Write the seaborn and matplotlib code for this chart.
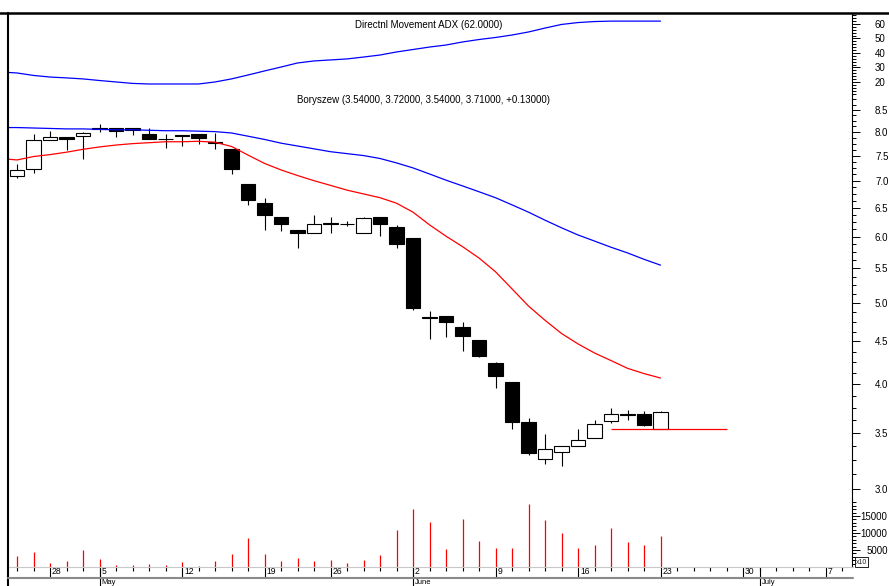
import numpy as np
import matplotlib
matplotlib.use("Agg")
import matplotlib.pyplot as plt
import matplotlib.transforms as mtransforms
from matplotlib.lines import Line2D
from matplotlib.ticker import FixedLocator, FixedFormatter, NullFormatter
import seaborn as sns

sns.set_style("white")
plt.rcParams['font.family'] = ['Liberation Sans', 'DejaVu Sans']

# ---------------- data ----------------
opens = [7.10, 7.23, 7.83, 7.89, 7.91, 8.07, 8.08, 8.08, 7.95, 7.85, 7.93, 7.95, 7.78, 7.64,
         6.93, 6.59, 6.33, 6.11, 6.07, 6.22, 6.21, 6.06, 6.33, 6.17, 5.98, 4.80, 4.82, 4.68,
         4.52, 4.24, 4.03, 3.61, 3.26, 3.32, 3.38, 3.45, 3.62, 3.68, 3.69, 3.54]
highs = [7.32, 7.95, 8.02, 7.89, 8.00, 8.17, 8.08, 8.08, 8.08, 7.95, 7.93, 7.95, 7.99, 7.64,
         6.93, 6.67, 6.33, 6.11, 6.37, 6.33, 6.27, 6.34, 6.34, 6.19, 5.98, 4.89, 4.82, 4.75,
         4.52, 4.25, 4.03, 3.65, 3.49, 3.38, 3.54, 3.63, 3.75, 3.73, 3.72, 3.72]
lows = [7.05, 7.14, 7.83, 7.62, 7.43, 8.01, 7.89, 7.94, 7.85, 7.65, 7.69, 7.74, 7.64, 7.13,
        6.55, 6.11, 6.10, 5.81, 6.07, 6.07, 6.18, 6.06, 6.02, 5.81, 4.91, 4.53, 4.56, 4.38,
        4.31, 3.96, 3.54, 3.29, 3.21, 3.20, 3.38, 3.45, 3.60, 3.63, 3.57, 3.54]
closes = [7.21, 7.83, 7.89, 7.84, 7.99, 8.08, 8.02, 8.04, 7.85, 7.85, 7.91, 7.88, 7.76, 7.23,
          6.64, 6.37, 6.21, 6.07, 6.21, 6.24, 6.22, 6.32, 6.21, 5.88, 4.93, 4.81, 4.75, 4.57,
          4.32, 4.09, 3.61, 3.31, 3.35, 3.38, 3.43, 3.59, 3.69, 3.69, 3.58, 3.71]
# volume in chart units (x10)
volumes = [3235, 4314, 1176, 1667, 5000, 2353, 588, 588, 882, 686, 1470, 392, 1667, 3824,
           8627, 3824, 1863, 2647, 1667, 2059, 1176, 2059, 3627, 10882, 17059, 13333, 5294,
           14118, 7745, 5490, 5490, 18529, 13922, 10000, 5686, 6373, 11373, 7451, 6373, 9118]
# indicator series start one session before the first visible candle
ind_start = -1
ma_red = [7.44, 7.41, 7.48, 7.52, 7.57, 7.63, 7.68, 7.72, 7.75, 7.77, 7.79, 7.79, 7.80, 7.78,
          7.69, 7.51, 7.34, 7.21, 7.10, 7.00, 6.91, 6.82, 6.75, 6.68, 6.58, 6.42, 6.20, 6.01,
          5.84, 5.66, 5.45, 5.20, 4.96, 4.77, 4.60, 4.47, 4.36, 4.27, 4.18, 4.12, 4.07]
ma_blue = [8.10, 8.10, 8.09, 8.08, 8.07, 8.07, 8.06, 8.05, 8.05, 8.04, 8.03, 8.03, 8.02, 8.01,
           7.98, 7.91, 7.84, 7.76, 7.70, 7.64, 7.58, 7.54, 7.50, 7.44, 7.35, 7.25, 7.13, 7.01,
           6.90, 6.79, 6.68, 6.55, 6.42, 6.28, 6.15, 6.03, 5.93, 5.83, 5.74, 5.64, 5.55]
adx = [26.9, 26.2, 24.5, 23.4, 22.8, 22.1, 21.0, 20.0, 19.0, 18.6, 18.6, 18.6, 18.6, 20.0,
       22.1, 24.8, 27.6, 30.3, 33.1, 34.5, 35.2, 35.9, 37.2, 38.6, 40.7, 42.4, 44.1, 45.5,
       47.6, 49.3, 50.7, 52.4, 54.5, 57.2, 59.7, 61.0, 61.7, 62.0, 62.0, 62.0, 62.0]
support_level = 3.54
support_from, support_to = 36, 43

week_ticks = [2, 5, 10, 15, 19, 24, 29, 34, 39, 44, 49]
week_labels = ['28', '5', '12', '19', '26', '2', '9', '16', '23', '30', '7']
month_ticks = [5, 24, 45]
month_labels = ['May', 'June', 'July']
n_slots = 51

adx_ticks = [20, 30, 40, 50, 60]
adx_tick_labels = ['20', '30', '40', '50', '60']
price_ticks = [3.0, 3.5, 4.0, 4.5, 5.0, 5.5, 6.0, 6.5, 7.0, 7.5, 8.0, 8.5]
price_tick_labels = ['3.0', '3.5', '4.0', '4.5', '5.0', '5.5', '6.0', '6.5', '7.0', '7.5', '8.0', '8.5']
vol_ticks = [5000, 10000, 15000]
vol_tick_labels = ['5000', '10000', '15000']

# ---------------- layout ----------------
W, H = 889, 586
fig = plt.figure(figsize=(W / 100, H / 100), dpi=100)
fig.patch.set_facecolor('white')


def box(x0, y0, x1, y1):
    return [x0 / W, 1 - y1 / H, (x1 - x0) / W, (y1 - y0) / H]


XL, XR = 8, 852.5
ax_adx = fig.add_axes(box(XL, 13, XR, 95))
ax_p = fig.add_axes(box(XL, 95, XR, 500))
ax_v = fig.add_axes(box(XL, 500, XR, 567))
xlim = ((XL - 17) / 16.5, (XR - 17) / 16.5)

for ax in (ax_adx, ax_p, ax_v):
    ax.set_facecolor('white')
    ax.set_xlim(*xlim)
    for s in ('left', 'top', 'bottom'):
        ax.spines[s].set_visible(False)
    ax.spines['right'].set_visible(True)
    ax.spines['right'].set_color('black')
    ax.spines['right'].set_linewidth(0.8)
    ax.yaxis.tick_right()
    ax.tick_params(axis='y', which='both', right=True, left=False, direction='out',
                   color='black', width=0.7, labelsize=7, labelcolor='black')
    ax.tick_params(axis='y', which='major', length=5.8)
    ax.tick_params(axis='y', which='minor', length=2.9)

ax_adx.set_xticks([])
ax_p.set_xticks([])

idx = np.arange(len(opens))
ind_idx = np.arange(ind_start, ind_start + len(ma_red))

# ADX panel
sns.lineplot(x=ind_idx, y=adx, ax=ax_adx, color='#0000ff', linewidth=0.9)
ax_adx.set_ylim(11.0, 67.6)
ax_adx.yaxis.set_major_locator(FixedLocator(adx_ticks))
ax_adx.yaxis.set_major_formatter(FixedFormatter(adx_tick_labels))
ax_adx.yaxis.set_minor_locator(FixedLocator(np.arange(12, 68, 2)))
ax_adx.tick_params(axis='y', which='major', pad=10.4)
ax_adx.set_xlim(*xlim)
ax_adx.set_xlabel('')
ax_adx.set_ylabel('')

# Price panel
ax_p.set_yscale('log')
o = np.array(opens); c = np.array(closes); h = np.array(highs); l = np.array(lows)
up = c >= o
bot = np.minimum(o, c)
hgt = np.abs(c - o)
ax_p.vlines(idx, l, h, color='black', linewidth=0.8, zorder=2)
ax_p.bar(idx[up], hgt[up], bottom=bot[up], width=0.85, facecolor='white',
         edgecolor='black', linewidth=0.8, zorder=3)
ax_p.bar(idx[~up], hgt[~up], bottom=bot[~up], width=0.85, facecolor='black',
         edgecolor='black', linewidth=0.8, zorder=3)
sns.lineplot(x=ind_idx, y=ma_red, ax=ax_p, color='#ff0000', linewidth=0.9, zorder=4)
sns.lineplot(x=ind_idx, y=ma_blue, ax=ax_p, color='#0000ff', linewidth=0.9, zorder=4)
ax_p.hlines(support_level, support_from, support_to, color='#ff0000', linewidth=0.9, zorder=4)
ax_p.set_ylim(2.911, 8.858)
ax_p.yaxis.set_major_locator(FixedLocator(price_ticks))
ax_p.yaxis.set_major_formatter(FixedFormatter(price_tick_labels))
ax_p.yaxis.set_minor_locator(FixedLocator(np.arange(2.875, 8.9, 0.125)))
ax_p.yaxis.set_minor_formatter(NullFormatter())
ax_p.tick_params(axis='y', which='major', pad=10.4)
ax_p.set_xlim(*xlim)
ax_p.set_xlabel('')
ax_p.set_ylabel('')

# Volume panel
ax_v.vlines(idx, 0, volumes, color='#ff0000', linewidth=0.9)
ax_v.set_ylim(0, 19706)
ax_v.yaxis.set_major_locator(FixedLocator(vol_ticks))
ax_v.yaxis.set_major_formatter(FixedFormatter(vol_tick_labels))
ax_v.yaxis.set_minor_locator(FixedLocator(np.arange(1000, 19706, 1000)))
ax_v.tick_params(axis='y', which='major', pad=19.5)
for lab in ax_v.get_yticklabels():
    lab.set_ha('right')
ax_v.spines['bottom'].set_visible(True)
ax_v.spines['bottom'].set_color('#c8c8c8')
ax_v.spines['bottom'].set_linewidth(0.8)
ax_v.set_xticks(week_ticks)
ax_v.set_xticklabels(week_labels, ha='left')
ax_v.set_xticks(np.arange(0, n_slots), minor=True)
ax_v.tick_params(axis='x', which='both', bottom=True, direction='out', color='black',
                 width=0.8, labelsize=6.2, labelcolor='black')
ax_v.tick_params(axis='x', which='major', length=7.9, pad=-7.55)
ax_v.tick_params(axis='x', which='minor', length=2.9)
off = mtransforms.ScaledTranslation(0.02, 0, fig.dpi_scale_trans)
for lab in ax_v.get_xticklabels():
    lab.set_transform(lab.get_transform() + off)
ax_v.set_xlim(*xlim)
ax_v.set_xlabel('')
ax_v.set_ylabel('')

sec = ax_v.secondary_xaxis('bottom')
sec.set_xticks(month_ticks)
sec.set_xticklabels(month_labels, ha='left', va='bottom')
sec.tick_params(axis='x', bottom=True, direction='out', color='black', width=0.8,
                length=13.7, pad=-0.25, labelsize=5.5, labelcolor='black')
sec.spines['bottom'].set_visible(False)
for lab in sec.get_xticklabels():
    lab.set_transform(lab.get_transform() + off)
    lab.set_va('bottom')

# frame lines
fig.add_artist(Line2D([0, 1], [1 - 12.5 / H] * 2, color='black', linewidth=1.8))
fig.add_artist(Line2D([7.5 / W] * 2, [1 - 12.5 / H, 0], color='black', linewidth=1.5))
fig.add_artist(Line2D([XL / W, 853 / W], [1 - 578 / H] * 2, color='#8a8a8a', linewidth=1.5))

# texts
fig.text(355 / W, 1 - 25 / H, f"Directnl Movement ADX ({adx[-1]:.4f})", fontsize=7,
         ha='left', va='center', color='black')
chg = closes[-1] - closes[-2]
fig.text(297 / W, 1 - 100 / H,
         f"Boryszew ({opens[-1]:.5f}, {highs[-1]:.5f}, {lows[-1]:.5f}, {closes[-1]:.5f}, {chg:+.5f})",
         fontsize=7, ha='left', va='center', color='black')
fig.text(856 / W, 1 - 562 / H, "x10", fontsize=5, ha='left', va='center',
         bbox=dict(boxstyle='square,pad=0.15', fc='white', ec='black', lw=0.6))

fig.savefig("out.png", dpi=100)
